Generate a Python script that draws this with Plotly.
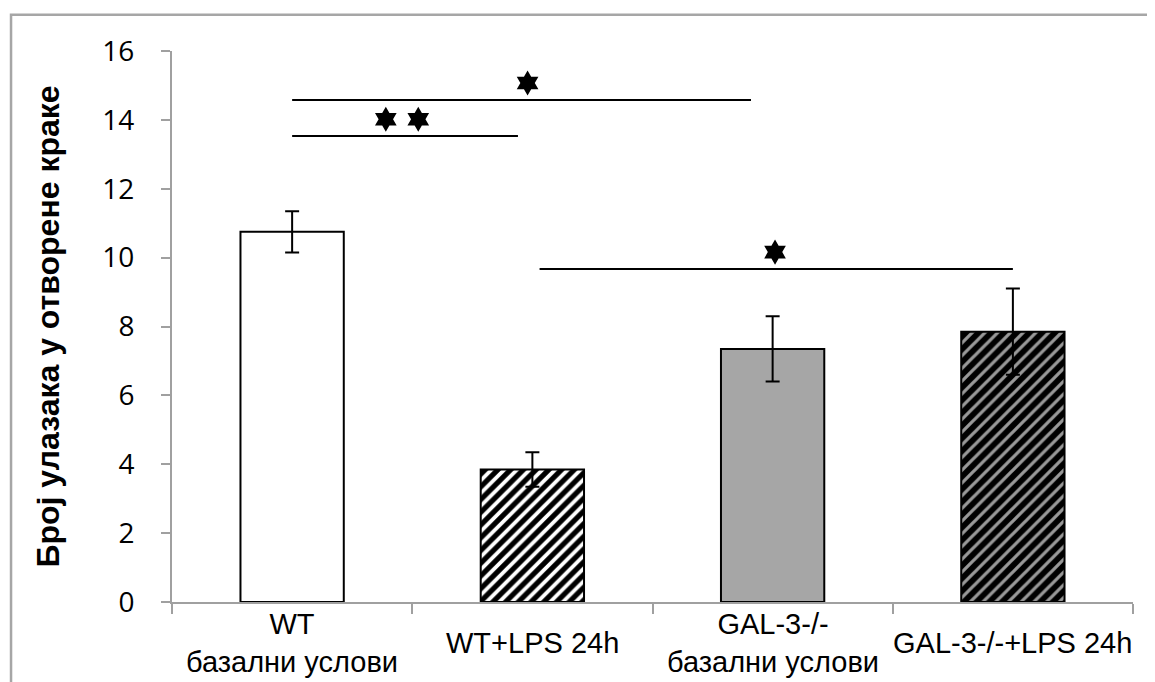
import plotly.graph_objects as go

# ---- data ----
categories = ["WT<br>базални услови", "WT+LPS 24h", "GAL-3-/-<br>базални услови", "GAL-3-/-+LPS 24h"]
means = [10.75, 3.85, 7.35, 7.85]
sem = [0.6, 0.5, 0.95, 1.25]
fill_colors = ["white", "black", "#a6a6a6", "black"]
pattern_shapes = ["", "/", "", "/"]
pattern_fg = ["white", "white", "#a6a6a6", "#999999"]
pattern_solidity = [0.4, 0.42, 0.4, 0.36]

y_title = "Број улазака у отворене краке"
y_ticks = [0, 2, 4, 6, 8, 10, 12, 14, 16]

# significance brackets: (x start, x end, y level) in category units / data units
sig_x0 = [0.0, 0.0, 1.03]
sig_x1 = [1.91, 0.94, 3.0]
sig_y = [14.58, 13.53, 9.67]
star_x = [0.98, 0.39, 0.525, 2.01]
star_y = [15.07, 14.02, 14.02, 10.16]

fig = go.Figure()
for i in range(len(categories)):
    fig.add_trace(go.Bar(
        x=[i], y=[means[i]], width=0.43,
        marker=dict(
            color=fill_colors[i],
            line=dict(color="black", width=2),
            pattern=dict(shape=pattern_shapes[i], fgcolor=pattern_fg[i], bgcolor=fill_colors[i],
                         size=9, solidity=pattern_solidity[i], fillmode="replace", fgopacity=1),
        ),
        error_y=dict(type="data", array=[sem[i]], color="black", thickness=2, width=7),
        showlegend=False,
    ))

fig.add_trace(go.Scatter(
    x=star_x, y=star_y, mode="markers",
    marker=dict(symbol="hexagram", size=19, color="black", line=dict(width=0)),
    showlegend=False, hoverinfo="skip",
))

for x0, x1, y in zip(sig_x0, sig_x1, sig_y):
    fig.add_shape(type="line", xref="x", yref="y", x0=x0, x1=x1, y0=y, y1=y,
                  line=dict(color="black", width=2))

# category labels as annotations (vertically centred like the reference)
for i, lab in enumerate(categories):
    fig.add_annotation(x=i, y=-0.074, xref="x", yref="paper", text=lab, showarrow=False,
                       yanchor="middle", xanchor="center",
                       font=dict(family="Liberation Sans, Arial", size=29, color="black"))

# outer border
fig.add_shape(type="rect", xref="paper", yref="paper",
              x0=-0.1675, x1=1.2, y0=-0.3, y1=1.066,
              line=dict(color="#a6a6a6", width=2.5), fillcolor="rgba(0,0,0,0)", layer="below")

fig.update_layout(
    width=1155, height=682,
    margin=dict(l=164, r=30, t=43, b=88),
    paper_bgcolor="white", plot_bgcolor="white",
    barmode="overlay",
)
fig.update_xaxes(
    range=[-0.5, 3.5], tickmode="array", tickvals=[-0.5, 0.5, 1.5, 2.5, 3.5], ticktext=[""] * 5,
    showticklabels=False, ticks="outside", ticklen=10, tickwidth=2, tickcolor="#a0a0a0",
    showline=True, linecolor="#a0a0a0", linewidth=2, showgrid=False, zeroline=False,
    automargin=False,
)
fig.update_yaxes(
    range=[0, 16], tickvals=y_ticks, ticks="outside", ticklen=9, tickwidth=2, tickcolor="#a0a0a0",
    showline=True, linecolor="#a0a0a0", linewidth=2, showgrid=False, zeroline=False,
    tickfont=dict(family="Open Sans", size=28, color="black"), ticklabelstandoff=21,
    title=dict(text=y_title, font=dict(family="Liberation Sans, Arial", size=32, color="black", weight="bold"),
               standoff=33),
    automargin=False,
)

fig.write_html("out.html")
